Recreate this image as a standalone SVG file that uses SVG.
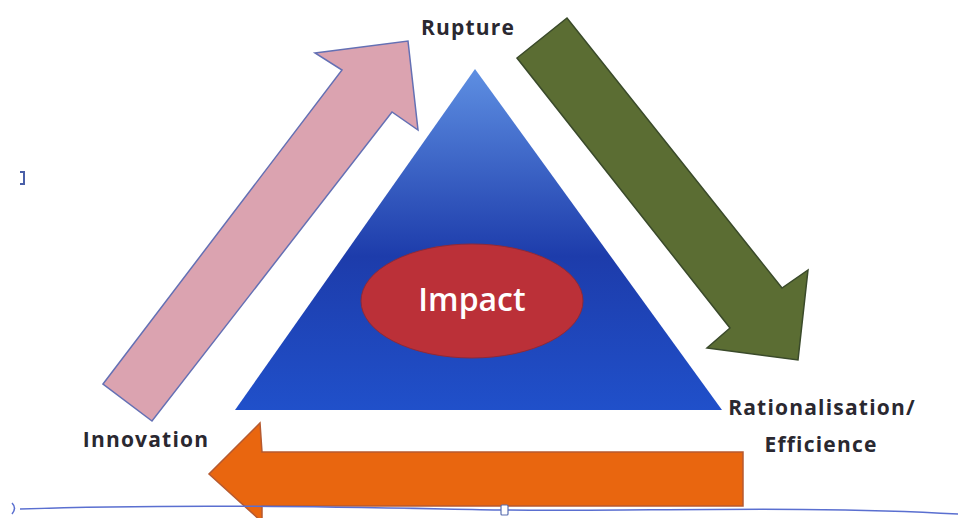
<svg xmlns="http://www.w3.org/2000/svg" width="958" height="518" viewBox="0 0 958 518">
  <defs>
    <linearGradient id="triFill" x1="0" y1="0" x2="0" y2="1">
      <stop offset="0" stop-color="#5e8fe2"/>
      <stop offset="0.55" stop-color="#1d3cab"/>
      <stop offset="1" stop-color="#2050ca"/>
    </linearGradient>
  </defs>
  <style>
    .lbl { font-family: "Open Sans", "Liberation Sans", sans-serif; font-weight: 700; fill: #2a2830; font-size: 21px; letter-spacing: 1.2px; }
    .arrow { stroke-width: 1.5; stroke-linejoin: miter; }
  </style>
  <rect width="958" height="518" fill="#ffffff"/>

  <!-- cycle arrows -->
  <g id="connectors">
    <path id="arrow-innovation-rupture" class="arrow" fill="#dba3b0" stroke="#6470b4"
          d="M103 384 L342 70 L315 53 L408 41 L418 130 L392 112 L152 421 Z"/>
    <path id="arrow-rupture-rationalisation" class="arrow" fill="#5b6d33" stroke="#3a4a2a"
          d="M517 58 L567 18 L782 288 L808 270 L798 360 L707 348 L730 328 Z"/>
    <path id="arrow-rationalisation-innovation" class="arrow" fill="#e9660f" stroke="#b65a30"
          d="M743 452 L743 506 L262 506 L262 522 L209 474 L260 423 L262 452 Z"/>
  </g>

  <!-- central triangle with impact ellipse -->
  <g id="impact">
    <polygon points="475,69 722,410 235,410" fill="url(#triFill)"/>
    <ellipse cx="472" cy="301" rx="111" ry="57" fill="#bb3038" stroke="#8c2a3a" stroke-width="1"/>
    <text x="472" y="311" text-anchor="middle" font-family="Open Sans, Liberation Sans, sans-serif" font-weight="600" font-size="32" fill="#ffffff">Impact</text>
  </g>

  <g id="rupture">
    <text class="lbl" x="468" y="35" text-anchor="middle">Rupture</text>
  </g>
  <g id="innovation">
    <text class="lbl" x="146" y="447" text-anchor="middle">Innovation</text>
  </g>
  <g id="rationalisation">
    <text class="lbl" x="822" y="415" text-anchor="middle">Rationalisation/</text>
    <text class="lbl" x="821" y="452" text-anchor="middle">Efficience</text>
  </g>

  <!-- page border line and small marks -->
  <g id="baseline">
    <path d="M20 509 C 200 503, 380 508, 505 510 S 800 505, 958 514" fill="none" stroke="#5a6fd0" stroke-width="1.5"/>
    <path d="M12 503 Q 17 508 12 514" fill="none" stroke="#5a6fd0" stroke-width="1.5"/>
    <rect x="501" y="505" width="7" height="10" rx="1" fill="#ffffff" stroke="#5a6fb0" stroke-width="1.2"/>
    <path d="M20 172 L24 172 L24 184 L20 184" fill="none" stroke="#4a5fa8" stroke-width="2"/>
  </g>
</svg>
